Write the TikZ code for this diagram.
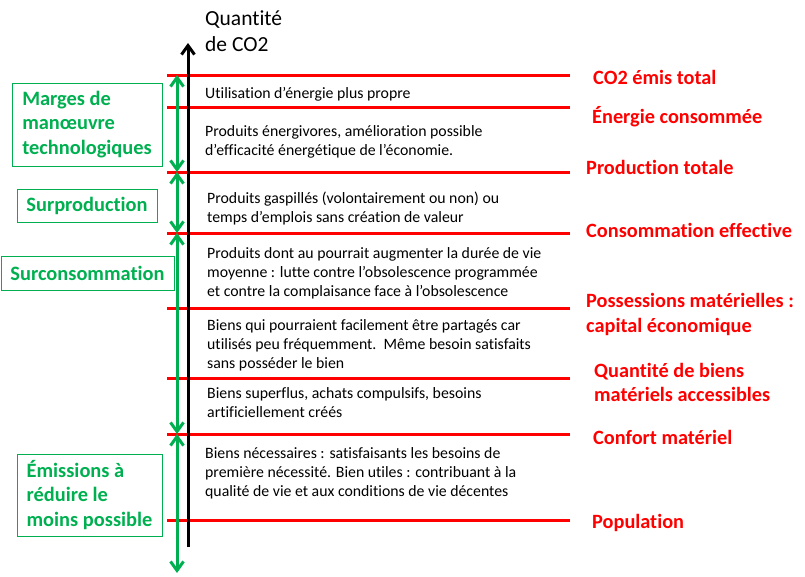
\documentclass[tikz,border=0pt]{standalone}
\usepackage{fontspec}
\setmainfont{Carlito}[Ligatures=NoCommon]
\usepackage{xcolor}
\usetikzlibrary{arrows.meta, positioning}
\definecolor{niveau-rouge}{RGB}{255,0,0}
\definecolor{marge-vert}{RGB}{0,176,80}

\begin{document}
\begin{tikzpicture}[x=1pt, y=-1pt,
    niveau/.style={draw=niveau-rouge, line width=3pt},
    desc/.style={anchor=west, inner sep=0pt, align=left,
                 font=\fontsize{15.8}{19}\selectfont},
    lab/.style={anchor=west, inner sep=0pt, align=left, text=niveau-rouge,
                font=\bfseries\fontsize{20.3}{24.5}\selectfont},
    zone/.style={rectangle, draw=marge-vert, line width=1pt, text=marge-vert,
                 align=left, inner sep=0pt,
                 font=\bfseries\fontsize{20.4}{24.5}\selectfont},
    fleche/.style={{Straight Barb[length=9pt, width=13pt]}-{Straight Barb[length=9pt, width=13pt]},
                   marge-vert, line width=3pt},
    axe/.style={-{Straight Barb[length=9pt, width=13pt]}, line width=3pt},
]
\useasboundingbox (0,0) rectangle (805,576);

% niveaux de l'axe
\foreach \nom/\y in {co2/75, ener/107, prod/172, conso/233, poss/308,
                     biens/378, confort/434, pop/520} {
    \coordinate (\nom-g) at (167,\y);
    \coordinate (\nom-d) at (570,\y);
    \coordinate (\nom-v) at (177,\y);
    \draw[niveau] (\nom-g) -- (\nom-d);
}
\coordinate (bas-v) at (177,573);

\coordinate (axe-bas) at (188,547);
\coordinate (axe-haut) at (188,43);
\draw[axe] (axe-bas) -- (axe-haut);

\node[anchor=west, inner sep=0pt, align=left,
      font=\fontsize{21.5}{26}\selectfont] (titre) at (205,31)
    {Quantité\\de CO2};

% marges vertes
\draw[fleche] (co2-v) -- (prod-v);
\draw[fleche] (prod-v) -- (conso-v);
\draw[fleche] (conso-v) -- (confort-v);
\draw[fleche] (confort-v) -- (bas-v);

\node[zone, minimum width=150pt, minimum height=83pt] (marges) at (87,124.5)
    {Marges de\\manœuvre\\technologiques};
\node[zone, minimum width=140pt, minimum height=33pt] (surprod) at (87,205.5)
    {Surproduction};
\node[zone, minimum width=173pt, minimum height=34pt] (surcons) at (87.5,273)
    {Surconsommation};
\node[zone, minimum width=145pt, minimum height=82pt] (emis) at (89.5,495)
    {Émissions à\\réduire le\\moins possible};

% textes
\node[desc] (t-propre) at (205,94) {Utilisation d’énergie plus propre};
\node[desc] (t-energ) at (205,142)
    {Produits énergivores, amélioration possible\\
     d’efficacité énergétique de l’économie.};
\node[desc] (t-gaspi) at (207,208.5)
    {Produits gaspillés (volontairement ou non) ou\\
     temps d’emplois sans création de valeur};
\node[desc] (t-duree) at (207,273)
    {Produits dont au pourrait augmenter la durée de vie\\
     moyenne : lutte contre l’obsolescence programmée\\
     et contre la complaisance face à l’obsolescence};
\node[desc] (t-partage) at (207,345.5)
    {Biens qui pourraient facilement être partagés car\\
     utilisés peu fréquemment.\ \ Même besoin satisfaits\\
     sans posséder le bien};
\node[desc] (t-superflus) at (207,402.5)
    {Biens superflus, achats compulsifs, besoins\\
     artificiellement créés};
\node[desc] (t-necess) at (205,473)
    {Biens nécessaires : satisfaisants les besoins de\\
     première nécessité. Bien utiles : contribuant à la\\
     qualité de vie et aux conditions de vie décentes};

% libellés rouges
\node[lab] (l-co2) at (593,77) {CO2 émis total};
\node[lab] (l-ener) at (592,117) {Énergie consommée};
\node[lab] (l-prod) at (586,167) {Production totale};
\node[lab] (l-conso) at (586,230) {Consommation effective};
\node[lab] (l-poss) at (586,314.5) {Possessions matérielles :\\capital économique};
\node[lab] (l-biens) at (594,382.5) {Quantité de biens\\matériels accessibles};
\node[lab] (l-confort) at (593,437) {Confort matériel};
\node[lab] (l-pop) at (592,523) {Population};

\end{tikzpicture}
\end{document}
